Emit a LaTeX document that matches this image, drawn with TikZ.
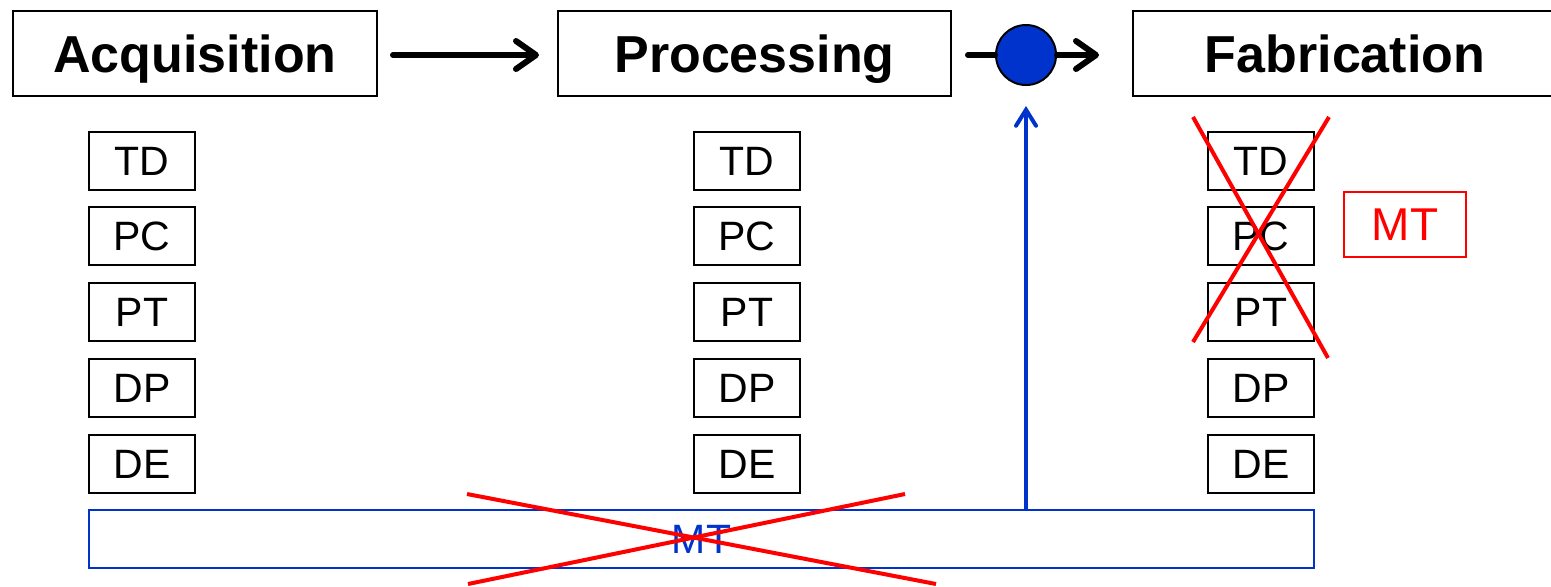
\documentclass[tikz,border=0pt]{standalone}
\usepackage{fontspec}
\setmainfont{Liberation Sans}
\usetikzlibrary{arrows.meta}
\definecolor{mblue}{HTML}{0033CC}
\definecolor{mred}{HTML}{FF0000}
\tikzset{
  bigbox/.style={draw=black, line width=1pt, minimum height=42.5pt, inner sep=0pt, text height=18.7pt, text depth=0pt, font=\fontsize{26}{30}\selectfont\bfseries},
  smallbox/.style={draw=black, line width=0.9pt, minimum width=53pt, minimum height=29pt, inner sep=0pt, font=\fontsize{20.5}{24}\selectfont},
  flowarr/.style={line width=3pt, line cap=round, -{Straight Barb[length=10pt,width=14pt,line cap=round,line join=round]}},
  bluearr/.style={mblue, line width=2pt, -{Straight Barb[length=8pt,width=10pt,line cap=round]}},
  cross/.style={mred, line width=2pt},
}
\begin{document}
\begin{tikzpicture}[x=0.5pt, y=-0.5pt]
\clip (0,0) rectangle (1551,586);
\useasboundingbox (0,0) rectangle (1551,586);
% top boxes
\node[bigbox, minimum width=182pt] (acq) at (195,53.5) {Acquisition};
\node[bigbox, minimum width=196.5pt] (proc) at (754.5,53.5) {Processing};
\node[bigbox, minimum width=212pt] (fab) at (1345,53.5) {Fabrication};
\node[circle, draw=black, line width=1pt, fill=mblue, minimum size=30pt, inner sep=0pt] (circ) at (1026,55) {};
% flow arrows
\draw[flowarr] ([xshift=7.5pt]acq.east |- 0,55) -- ([xshift=-9pt]proc.west |- 0,55);
\draw[line width=3pt, line cap=round] ([xshift=8pt]proc.east |- circ) -- (circ.west);
\draw[flowarr] (circ.east) -- ([xshift=-16.5pt]fab.west |- circ);
% small boxes
\foreach \col/\cx in {a/142, p/747, f/1261}{
  \foreach \row/\cy/\txt in {1/161/TD, 2/236/PC, 3/312/PT, 4/388/DP, 5/464/DE}{
    \node[smallbox] (\col\row) at (\cx,\cy) {\txt};
  }
}
% MT box (red)
\node[draw=mred, line width=0.9pt, text=mred, minimum width=61pt, minimum height=32.5pt, inner sep=0pt, font=\fontsize{23}{27}\selectfont] (mtr) at (1405,224.5) {MT};
% blue bar
\node[draw=mblue, line width=1pt, text=mblue, minimum width=612.5pt, minimum height=29pt, inner sep=0pt, font=\fontsize{20.5}{24}\selectfont] (bar) at (701.5,539) {MT};
\draw[bluearr] (bar.north -| circ) -- ([yshift=-10pt]circ.south);
% red crosses
\draw[cross] (1193,117) -- (1328,358);
\draw[cross] (1329,117) -- (1193,342);
\draw[cross] (467,494) -- (936,584);
\draw[cross] (905,494) -- (468,584);
\end{tikzpicture}
\end{document}
